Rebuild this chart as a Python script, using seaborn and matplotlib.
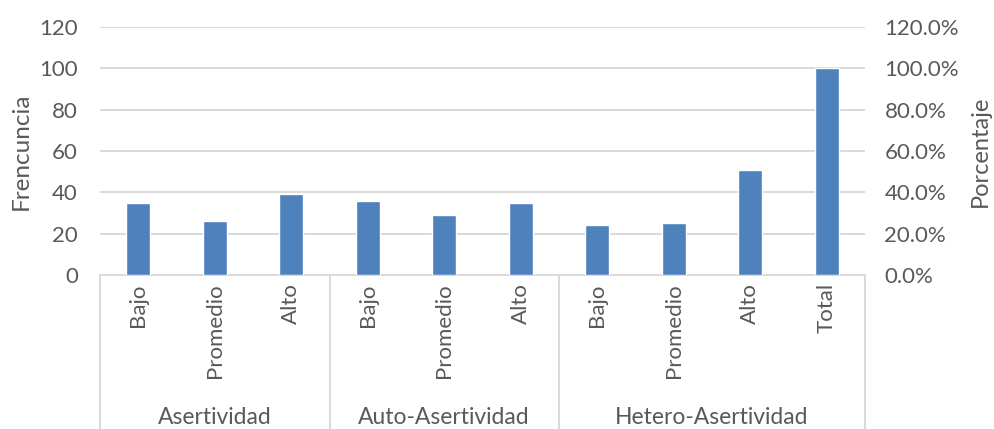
import pandas as pd
import numpy as np
import matplotlib
matplotlib.use('Agg')
import matplotlib.pyplot as plt
import matplotlib.transforms as mtransforms
from matplotlib.ticker import FuncFormatter
import seaborn as sns

# --- data ---
groups = ['Asertividad', 'Auto-Asertividad', 'Hetero-Asertividad']
levels_per_group = [['Bajo', 'Promedio', 'Alto'],
                    ['Bajo', 'Promedio', 'Alto'],
                    ['Bajo', 'Promedio', 'Alto', 'Total']]
frecuencia = [35, 26, 39, 36, 29, 35, 24, 25, 51, 100]

sns.set_theme(style='white')
plt.rcParams['font.family'] = ['Lato', 'DejaVu Sans']

bar_color = '#4F81BD'
grid_color = '#D9D9D9'
text_color = '#595959'

labels = [lv for lvs in levels_per_group for lv in lvs]
df = pd.DataFrame({
    'key': [f'{i}' for i in range(len(labels))],
    'nivel': labels,
    'Frecuencia': frecuencia,
})

fig = plt.figure(figsize=(9.94, 4.29), dpi=100)
W, H = 994, 429
x0, x1, ytop, ybot = 100, 865, 27, 275
ax = fig.add_axes([x0 / W, 1 - ybot / H, (x1 - x0) / W, (ybot - ytop) / H])

sns.barplot(data=df, x='key', y='Frecuencia', color=bar_color, width=0.32,
            saturation=1, ax=ax, zorder=3)

ax.set_ylim(0, 120)
ax.set_yticks(np.arange(0, 121, 20))
ax.set_xlim(-0.5, len(labels) - 0.5)
ax.yaxis.grid(True, color=grid_color, linewidth=1.4, zorder=0)
ax.xaxis.grid(False)
for s in ['top', 'right', 'left']:
    ax.spines[s].set_visible(False)
ax.spines['bottom'].set_color(grid_color)
ax.spines['bottom'].set_linewidth(1.4)

ax.set_xticks(range(len(labels)))
ax.set_xticklabels(labels, rotation=90, va='top', fontsize=16, color=text_color)
ax.tick_params(axis='x', length=0, pad=6)
ax.tick_params(axis='y', length=0, labelsize=16, labelcolor=text_color, pad=16)
ax.set_xlabel('')
ax.set_ylabel('Frencuncia', fontsize=17.5, color=text_color)
ax.yaxis.set_label_coords((32 - x0) / (x1 - x0), 0.5)

# second axis for percentages
ax2 = ax.twinx()
ax2.set_ylim(0, 1.2)
ax2.set_yticks(np.arange(0, 1.21, 0.2))
ax2.yaxis.set_major_formatter(FuncFormatter(lambda v, p: f'{v * 100:.1f}%'))
ax2.tick_params(axis='y', length=0, labelsize=16, labelcolor=text_color, pad=14)
for s in ax2.spines.values():
    s.set_visible(False)
ax2.set_ylabel('Porcentaje', fontsize=17, color=text_color)
ax2.yaxis.set_label_coords((970 - x0) / (x1 - x0), 0.5)
ax2.grid(False)

# multi-level category axis
trans = mtransforms.blended_transform_factory(ax.transData, ax.transAxes)
depth = -(H - ybot) / (ybot - ytop)
bounds = [-0.5]
for lvs in levels_per_group:
    bounds.append(bounds[-1] + len(lvs))
for b in bounds:
    ax.plot([b, b], [0, depth], transform=trans, color=grid_color,
            linewidth=1.4, clip_on=False)
for g, a, b in zip(groups, bounds[:-1], bounds[1:]):
    ax.text((a + b) / 2, -(417 - ybot) / (ybot - ytop), g, transform=trans,
            ha='center', va='center', fontsize=16.5, color=text_color)

fig.savefig('out.png', dpi=100)
